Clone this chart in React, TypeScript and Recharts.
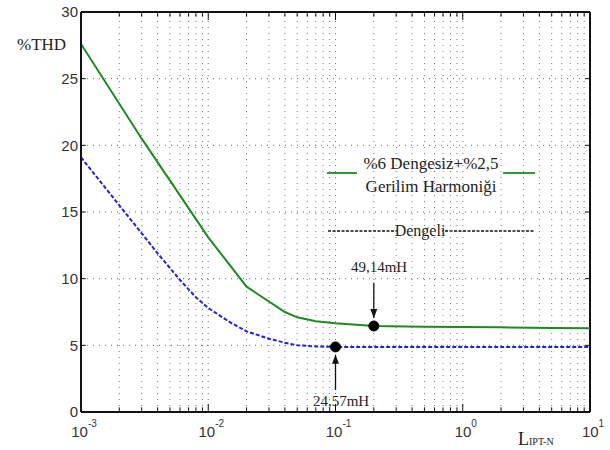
import { LineChart, Line, XAxis, YAxis, ReferenceLine, ReferenceDot } from "recharts";

// L (H) values and %THD
const unbalancedX = [0.001, 0.003, 0.01, 0.02, 0.04, 0.05, 0.07, 0.1, 0.2, 0.5, 1, 2, 5, 10];
const unbalancedY = [27.6, 20.5, 13.1, 9.4, 7.5, 7.1, 6.8, 6.65, 6.45, 6.4, 6.38, 6.35, 6.3, 6.28];
const balancedX = [0.001, 0.002, 0.003, 0.004, 0.005, 0.006, 0.008, 0.01, 0.015, 0.02, 0.03, 0.04, 0.05, 0.07, 0.1, 1, 10];
const balancedY = [19.1, 15.5, 13.4, 11.9, 10.8, 9.9, 8.6, 7.8, 6.7, 6.05, 5.5, 5.2, 5.0, 4.92, 4.88, 4.87, 4.87];

const xTicks = [0.001, 0.01, 0.1, 1, 10];
const yTicks = [0, 5, 10, 15, 20, 25, 30];
const gridY = [5, 10, 15, 20, 25];
const minorX = [1, 2, 3, 4, 5, 6, 7, 8, 9].flatMap((m) => [0.001, 0.01, 0.1, 1].map((d) => m * d)).filter((v) => v > 0.001);

const markUnbalanced = { x: 0.2, y: 6.45, label: "49,14mH" };
const markBalanced = { x: 0.1, y: 4.88, label: "24,57mH" };

const GREEN = "#1f8a1f";
const BLUE = "#2323d6";

const unbalanced = unbalancedX.map((x, i) => ({ x, y: unbalancedY[i] }));
const balanced = balancedX.map((x, i) => ({ x, y: balancedY[i] }));

const SANS = "'Liberation Sans', Arial, sans-serif";
const SERIF = "'Liberation Serif', 'Times New Roman', serif";

function XTick(props: any) {
  const { x, y, payload } = props;
  const exp = Math.round(Math.log10(payload.value));
  return (
    <text x={x + 3} y={y + 25} textAnchor="middle" fontFamily={SANS} fontSize={15} fill="#333">
      10
      <tspan fontSize={10} dy={-10}>{exp}</tspan>
    </text>
  );
}

function Arrow(props: any) {
  const { x1, y1, x2, y2 } = props;
  const dir = y2 > y1 ? 1 : -1;
  return (
    <g>
      <line x1={x1} y1={y1} x2={x2} y2={y2} stroke="#111" strokeWidth={1.3} />
      <polygon points={`${x2 - 3.5},${y2 - dir * 9} ${x2 + 3.5},${y2 - dir * 9} ${x2},${y2}`} fill="#111" />
    </g>
  );
}

export default function App() {
  return (
    <div style={{ position: "absolute", left: 0, top: 0, background: "#fff" }}>
      <LineChart width={610} height={450} margin={{ top: 12, right: 20, bottom: 0, left: 0 }}>
        <XAxis
          dataKey="x"
          type="number"
          scale="log"
          domain={[0.001, 10]}
          ticks={xTicks}
          allowDataOverflow
          height={38}
          tickSize={0}
          tickMargin={0}
          tick={<XTick />}
          axisLine={{ stroke: "#111", strokeWidth: 2 }}
        />
        <YAxis
          type="number"
          domain={[0, 30]}
          ticks={yTicks}
          width={81}
          tickSize={0}
          tickMargin={3}
          tick={{ fontFamily: SANS, fontSize: 15, fill: "#333" }}
          axisLine={{ stroke: "#111", strokeWidth: 2 }}
        />

        {/* dotted grid */}
        {minorX.map((v) => (
          <ReferenceLine key={"gx" + v} x={v} stroke="#777" strokeWidth={1} strokeDasharray="1 5" />
        ))}
        {gridY.map((v) => (
          <ReferenceLine key={"gy" + v} y={v} stroke="#666" strokeWidth={1} strokeDasharray="1 5" />
        ))}

        {/* inward tick marks */}
        {minorX.map((v) => {
          const h = [0.01, 0.1, 1].includes(v) ? 0.6 : 0.35;
          return [
            <ReferenceLine key={"tb" + v} segment={[{ x: v, y: 0 }, { x: v, y: h }]} stroke="#111" />,
            <ReferenceLine key={"tt" + v} segment={[{ x: v, y: 30 - h }, { x: v, y: 30 }]} stroke="#111" />,
          ];
        })}
        {gridY.map((v) => [
          <ReferenceLine key={"tl" + v} segment={[{ x: 0.001, y: v }, { x: 0.00109, y: v }]} stroke="#111" />,
          <ReferenceLine key={"tr" + v} segment={[{ x: 9.15, y: v }, { x: 10, y: v }]} stroke="#111" />,
        ])}

        {/* box */}
        <ReferenceLine y={30} stroke="#111" strokeWidth={2} />
        <ReferenceLine x={10} stroke="#111" strokeWidth={2} />

        <Line data={unbalanced} dataKey="y" type="linear" stroke={GREEN} strokeWidth={2} dot={false} isAnimationActive={false} />
        <Line data={balanced} dataKey="y" type="linear" stroke={BLUE} strokeWidth={2} strokeDasharray="4 2" dot={false} isAnimationActive={false} />

        {/* annotation arrows */}
        <ReferenceLine segment={[{ x: markUnbalanced.x, y: 9.7 }, { x: markUnbalanced.x, y: 7.05 }]} shape={<Arrow />} />
        <ReferenceLine segment={[{ x: markBalanced.x, y: 1.65 }, { x: markBalanced.x, y: 4.3 }]} shape={<Arrow />} />
        <ReferenceDot x={markUnbalanced.x} y={markUnbalanced.y} r={5} fill="#000" stroke="#000" />
        <ReferenceDot x={markBalanced.x} y={markBalanced.y} r={5} fill="#000" stroke="#000" />

        <text x={379} y={272} textAnchor="middle" fontFamily={SERIF} fontSize={15} fill="#222">{markUnbalanced.label}</text>
        <text x={341} y={406} textAnchor="middle" fontFamily={SERIF} fontSize={15} fill="#222">{markBalanced.label}</text>

        {/* axis titles */}
        <text x={17} y={50} fontFamily={SERIF} fontSize={17} fill="#222">%THD</text>
        <text x={518} y={445} fontFamily={SERIF} fontSize={18} fill="#222">
          L<tspan fontSize={10}>IPT-N</tspan>
        </text>

        {/* legend */}
        <rect x={358} y={152} width={146} height={43} fill="#fff" />
        <line x1={327} y1={173} x2={357} y2={173} stroke="#2f9a2f" strokeWidth={2} />
        <line x1={503} y1={173} x2={535} y2={173} stroke="#2f9a2f" strokeWidth={2} />
        <text x={431} y={169} textAnchor="middle" fontFamily={SERIF} fontSize={17} fill="#222">%6 Dengesiz+%2,5</text>
        <text x={431} y={192} textAnchor="middle" fontFamily={SERIF} fontSize={17} fill="#222">Gerilim Harmoniği</text>
        <line x1={328} y1={231} x2={535} y2={231} stroke="#111" strokeWidth={1.5} strokeDasharray="3 1.5" />
        <rect x={398} y={221} width={44} height={17} fill="#fff" />
        <text x={420} y={236} textAnchor="middle" fontFamily={SERIF} fontSize={16} fill="#222">Dengeli</text>
      </LineChart>
    </div>
  );
}
